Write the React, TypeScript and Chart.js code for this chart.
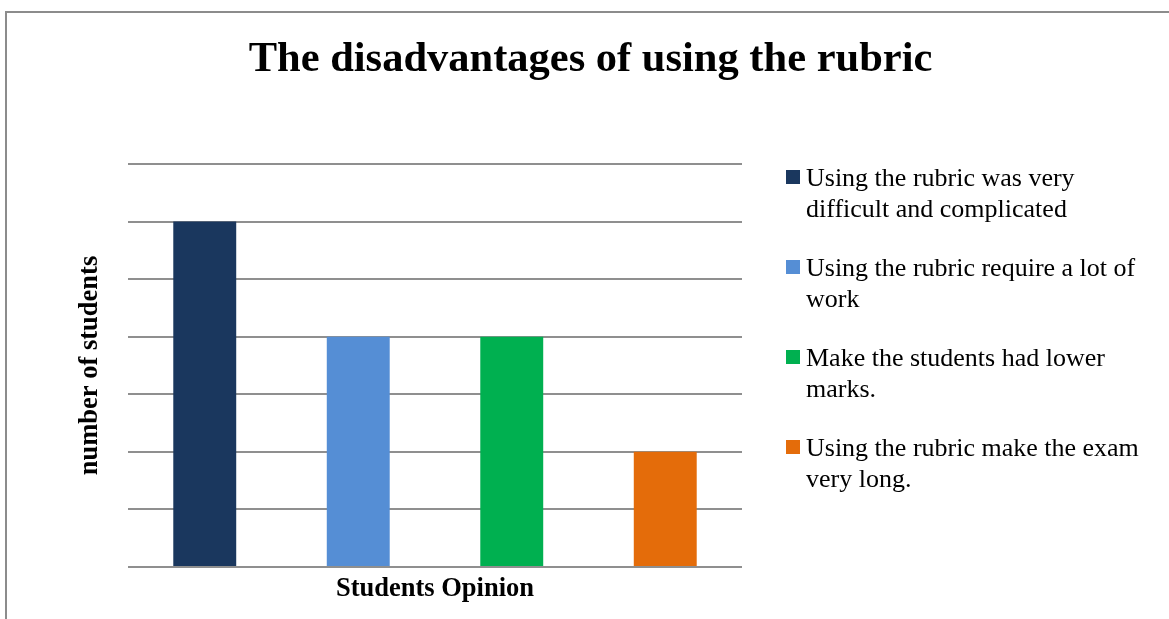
import React, { useEffect, useRef } from "react";
import { Chart, registerables } from "chart.js";

Chart.register(...registerables);

const chartTitle = "The disadvantages of using the rubric";
const xAxisTitle = "Students Opinion";
const yAxisTitle = "number of students";
const opinions = [
  "Using the rubric was very difficult and complicated",
  "Using the rubric require a lot of work",
  "Make the students had lower marks.",
  "Using the rubric make the exam very long.",
];
const legendLines = [
  ["Using the rubric was very", "difficult and complicated"],
  ["Using the rubric require a lot of", "work"],
  ["Make the students had lower", "marks."],
  ["Using the rubric make the exam", "very long."],
];
const studentCounts = [6, 4, 4, 2];
const barColors = ["#1a375e", "#558ed5", "#00b050", "#e46c0a"];
const yMax = 7;

const SERIF = '"Liberation Serif", "Times New Roman", Times, serif';

export default function App() {
  const canvasRef = useRef<HTMLCanvasElement | null>(null);

  useEffect(() => {
    const canvas = canvasRef.current;
    if (!canvas) return;
    const chart = new Chart(canvas, {
      type: "bar",
      data: {
        labels: [""],
        datasets: opinions.map((name, i) => ({
          label: name,
          data: [studentCounts[i]],
          backgroundColor: barColors[i],
          borderWidth: 0,
          categoryPercentage: 1,
          barPercentage: 0.41,
        })),
      },
      options: {
        responsive: false,
        animation: false,
        layout: { padding: { left: 12, right: 0, top: 0, bottom: 0 } },
        plugins: {
          legend: { display: false },
          tooltip: { enabled: false },
          title: {
            display: true,
            text: chartTitle,
            color: "#000",
            font: { family: SERIF, size: 42.5, weight: "bold" },
            padding: { top: 35, bottom: 78 },
          },
        },
        scales: {
          x: {
            grid: { display: false },
            border: { display: false },
            ticks: { display: false },
            title: {
              display: true,
              text: xAxisTitle,
              color: "#000",
              font: { family: SERIF, size: 26.5, weight: "bold" },
              padding: { top: 4, bottom: 14 },
            },
            afterFit: (scale: any) => {
              scale.height = 52;
            },
          },
          y: {
            min: 0,
            max: yMax,
            ticks: { display: false, stepSize: 1 },
            grid: { color: "#8f8f8f", lineWidth: 2, drawTicks: false },
            border: { display: false },
            title: {
              display: true,
              text: yAxisTitle,
              color: "#000",
              font: { family: SERIF, size: 26.5, weight: "bold" },
              padding: { top: 62, bottom: 4 },
            },
            afterFit: (scale: any) => {
              scale.width = 116;
            },
          },
          legendSpace: {
            type: "linear",
            position: "right",
            display: true,
            grid: { display: false },
            border: { display: false },
            ticks: { display: false },
            afterFit: (scale: any) => {
              scale.width = 427;
            },
          },
        },
      } as any,
    });
    return () => chart.destroy();
  }, []);

  return (
    <div
      style={{
        position: "fixed",
        left: 0,
        top: 0,
        width: 1169,
        height: 619,
        background: "#fff",
        overflow: "hidden",
      }}
    >
      <div
        style={{
          position: "absolute",
          left: 5,
          top: 11,
          width: 1300,
          height: 800,
          border: "2px solid #8c8c8c",
        }}
      />
      <canvas
        ref={canvasRef}
        width={1169}
        height={619}
        style={{ position: "absolute", left: 0, top: 0, width: 1169, height: 619 }}
      />
      <div
        style={{
          position: "absolute",
          left: 786,
          top: 162,
          fontFamily: SERIF,
          fontSize: 26,
          lineHeight: "31px",
          color: "#000",
        }}
      >
        {legendLines.map((lines, i) => (
          <div key={i} style={{ display: "flex", alignItems: "flex-start", marginBottom: 28 }}>
            <div
              style={{
                width: 14,
                height: 14,
                marginTop: 8,
                marginRight: 6,
                background: barColors[i],
                flex: "none",
              }}
            />
            <div style={{ whiteSpace: "nowrap" }}>
              {lines.map((l, j) => (
                <div key={j}>{l}</div>
              ))}
            </div>
          </div>
        ))}
      </div>
    </div>
  );
}
